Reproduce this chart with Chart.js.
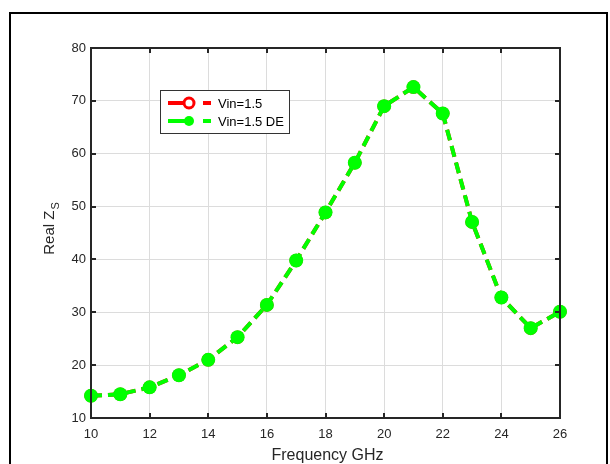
<!DOCTYPE html>
<html>
<head>
<meta charset="utf-8">
<script src="https://cdn.jsdelivr.net/npm/chart.js@4.4.0/dist/chart.umd.min.js"></script>
<style>
  html, body { margin: 0; padding: 0; background: #fff; }
  #wrap { width: 610px; height: 464px; position: relative; }
</style>
</head>
<body>
<div id="wrap"><canvas id="chart" width="610" height="464"></canvas></div>
<script>
// --- DATA ---
const freqGHz = [10, 11, 12, 13, 14, 15, 16, 17, 18, 19, 20, 21, 22, 23, 24, 25, 26];
const vin15 = [14.2, 14.5, 15.8, 18.1, 21.0, 25.3, 31.4, 39.8, 48.9, 58.3, 69.0, 72.6, 67.6, 47.1, 32.8, 27.0, 30.1];
const vin15DE = [14.2, 14.5, 15.8, 18.1, 21.0, 25.3, 31.4, 39.8, 48.9, 58.3, 69.0, 72.6, 67.6, 47.1, 32.8, 27.0, 30.1];
const xTicks = [10, 12, 14, 16, 18, 20, 22, 24, 26];
const yTicks = [10, 20, 30, 40, 50, 60, 70, 80];
const seriesNames = ['Vin=1.5', 'Vin=1.5 DE'];

const RED = '#ff0000';
const GREEN = '#00ff00';
const AXIS = '#262626';
const FONT = '"Liberation Sans", Arial, sans-serif';

const toPoints = (ys) => freqGHz.map((x, i) => ({ x: x, y: ys[i] }));

// --- DECORATIONS: outer frame, box, inward ticks, titles, legend ---
const matlabLook = {
    id: 'matlabLook',
    beforeDraw(chart) {
        const ctx = chart.ctx;
        ctx.save();
        ctx.fillStyle = '#fff';
        ctx.fillRect(0, 0, chart.width, chart.height);
        ctx.strokeStyle = '#000';
        ctx.lineWidth = 2;
        ctx.strokeRect(10, 13, 597, chart.height + 20);
        ctx.restore();
    },
    afterDraw(chart) {
        const ctx = chart.ctx;
        const a = chart.chartArea;
        const xs = chart.scales.x, ys = chart.scales.y;
        ctx.save();

        // box
        ctx.strokeStyle = AXIS;
        ctx.lineWidth = 2;
        ctx.strokeRect(a.left, a.top, a.right - a.left, a.bottom - a.top);

        // inward ticks on all four sides
        const tl = 5;
        ctx.beginPath();
        xTicks.forEach(v => {
            const px = Math.round(xs.getPixelForValue(v));
            ctx.moveTo(px, a.bottom); ctx.lineTo(px, a.bottom - tl);
            ctx.moveTo(px, a.top); ctx.lineTo(px, a.top + tl);
        });
        yTicks.forEach(v => {
            const py = Math.round(ys.getPixelForValue(v));
            ctx.moveTo(a.left, py); ctx.lineTo(a.left + tl, py);
            ctx.moveTo(a.right, py); ctx.lineTo(a.right - tl, py);
        });
        ctx.stroke();

        // x title
        ctx.fillStyle = AXIS;
        ctx.font = '16px ' + FONT;
        ctx.textAlign = 'center';
        ctx.textBaseline = 'alphabetic';
        ctx.fillText('Frequency GHz', (a.left + a.right) / 2 + 2, 460);

        // y title with subscript
        ctx.save();
        ctx.translate(54, 229);
        ctx.rotate(-Math.PI / 2);
        ctx.font = '15px ' + FONT;
        const main = 'Real Z';
        const wMain = ctx.measureText(main).width;
        ctx.font = '11px ' + FONT;
        const wSub = ctx.measureText('S').width;
        const start = -(wMain + wSub) / 2;
        ctx.textAlign = 'left';
        ctx.font = '15px ' + FONT;
        ctx.fillText(main, start, 0);
        ctx.font = '11px ' + FONT;
        ctx.fillText('S', start + wMain + 1, 5);
        ctx.restore();

        // legend
        const lx = 160, ly = 90, lw = 129, lh = 43;
        ctx.fillStyle = '#fff';
        ctx.fillRect(lx, ly, lw, lh);
        ctx.strokeStyle = '#333';
        ctx.lineWidth = 1;
        ctx.strokeRect(lx + 0.5, ly + 0.5, lw, lh);
        const rows = [
            { y: 103, color: RED, hollow: true, label: seriesNames[0] },
            { y: 121, color: GREEN, hollow: false, label: seriesNames[1] }
        ];
        rows.forEach(r => {
            ctx.strokeStyle = r.color;
            ctx.lineWidth = 4;
            ctx.beginPath();
            ctx.moveTo(168, r.y); ctx.lineTo(189, r.y);
            ctx.moveTo(203, r.y); ctx.lineTo(211, r.y);
            ctx.stroke();
            ctx.beginPath();
            ctx.arc(189, r.y, 5, 0, Math.PI * 2);
            if (r.hollow) {
                ctx.fillStyle = '#fff';
                ctx.fill();
                ctx.lineWidth = 3;
                ctx.stroke();
            } else {
                ctx.fillStyle = r.color;
                ctx.fill();
            }
            ctx.fillStyle = '#000';
            ctx.font = '13px ' + FONT;
            ctx.textAlign = 'left';
            ctx.textBaseline = 'middle';
            ctx.fillText(r.label, 218, r.y + 1);
        });
        ctx.restore();
    }
};

// --- CHART ---
new Chart(document.getElementById('chart').getContext('2d'), {
    type: 'line',
    data: {
        datasets: [
            {
                label: seriesNames[0],
                data: toPoints(vin15),
                order: 2,
                borderColor: RED,
                borderWidth: 4,
                borderDash: [11, 6],
                pointRadius: 5.5,
                pointBorderWidth: 2.5,
                pointBorderColor: RED,
                pointBackgroundColor: '#fff',
                tension: 0
            },
            {
                label: seriesNames[1],
                data: toPoints(vin15DE),
                order: 1,
                borderColor: GREEN,
                borderWidth: 4,
                borderDash: [11, 6],
                pointRadius: 7,
                pointBorderWidth: 0,
                pointBackgroundColor: GREEN,
                tension: 0
            }
        ]
    },
    options: {
        responsive: false,
        animation: false,
        clip: false,
        layout: { padding: { left: 0, top: 48, right: 50, bottom: 0 } },
        plugins: { legend: { display: false }, tooltip: { enabled: false } },
        scales: {
            x: {
                type: 'linear',
                min: 10, max: 26,
                afterFit: (s) => { s.height = 46; },
                afterBuildTicks: (s) => { s.ticks = xTicks.map(v => ({ value: v })); },
                grid: { color: '#dcdcdc', lineWidth: 1, drawTicks: false },
                border: { display: false },
                ticks: { color: AXIS, font: { family: FONT, size: 13 }, padding: 9, maxRotation: 0 }
            },
            y: {
                min: 10, max: 80,
                afterFit: (s) => { s.width = 91; },
                afterBuildTicks: (s) => { s.ticks = yTicks.map(v => ({ value: v })); },
                grid: { color: '#dcdcdc', lineWidth: 1, drawTicks: false },
                border: { display: false },
                ticks: { color: AXIS, font: { family: FONT, size: 13 }, padding: 5 }
            }
        }
    },
    plugins: [matlabLook]
});
</script>
</body>
</html>
